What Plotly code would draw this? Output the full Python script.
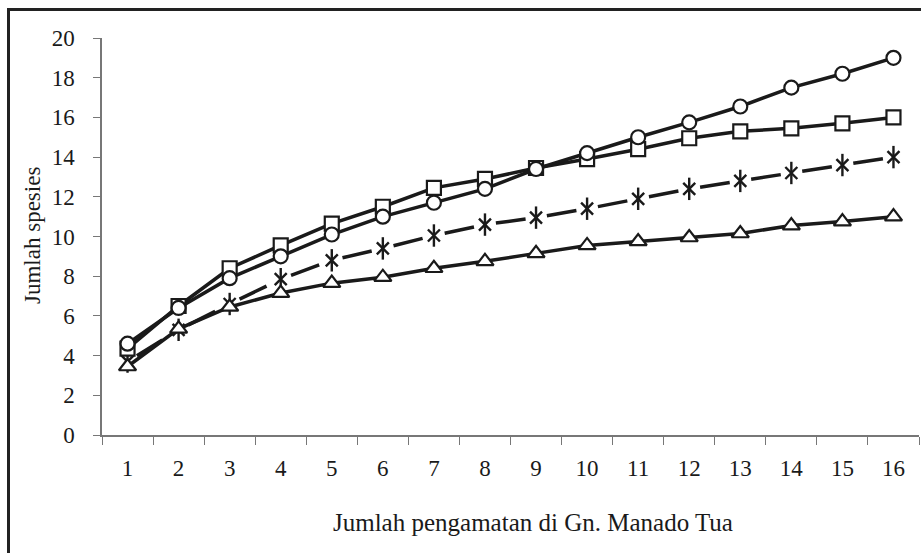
import plotly.graph_objects as go

categories = [str(i) for i in range(1, 17)]
circle_vals = [4.6, 6.4, 7.9, 9.0, 10.1, 11.0, 11.7, 12.4, 13.4, 14.2, 15.0, 15.75, 16.55, 17.5, 18.2, 19.0]
square_vals = [4.35, 6.5, 8.4, 9.55, 10.65, 11.5, 12.45, 12.9, 13.45, 13.9, 14.4, 14.95, 15.3, 15.45, 15.7, 16.0]
aster_vals = [3.7, 5.3, 6.6, 7.85, 8.8, 9.4, 10.05, 10.6, 10.95, 11.4, 11.9, 12.4, 12.8, 13.2, 13.6, 14.0]
tri_vals = [3.45, 5.35, 6.45, 7.15, 7.65, 7.95, 8.4, 8.75, 9.15, 9.55, 9.75, 9.95, 10.15, 10.55, 10.75, 11.0]
y_ticks = list(range(0, 21, 2))

FONT = "Liberation Serif"
INK = "#1a1a1a"
LW = 3.5

fig = go.Figure()

# dashed asterisk series: one dash per segment
for i in range(len(categories) - 1):
    fig.add_trace(go.Scatter(
        x=[categories[i], categories[i + 1]], y=[aster_vals[i], aster_vals[i + 1]],
        mode="lines", line=dict(color=INK, width=LW, dash="0px,11px,30px,300px"),
        hoverinfo="skip", showlegend=False))
# six-armed asterisk = X + vertical bar
fig.add_trace(go.Scatter(
    x=categories, y=aster_vals, mode="markers",
    marker=dict(symbol="x-thin-open", size=12, color=INK, line=dict(color=INK, width=2.4)),
    showlegend=False, hoverinfo="skip"))
fig.add_trace(go.Scatter(
    x=categories, y=aster_vals, mode="markers",
    marker=dict(symbol="line-ns-open", size=16, color=INK, line=dict(color=INK, width=2.4)),
    showlegend=False))

fig.add_trace(go.Scatter(
    x=categories, y=tri_vals, mode="lines+markers",
    line=dict(color=INK, width=LW),
    marker=dict(symbol="triangle-up", size=15, color="white", line=dict(color=INK, width=2.2)),
    showlegend=False))

fig.add_trace(go.Scatter(
    x=categories, y=square_vals, mode="lines+markers",
    line=dict(color=INK, width=LW),
    marker=dict(symbol="square", size=14, color="white", line=dict(color=INK, width=2.2)),
    showlegend=False))

fig.add_trace(go.Scatter(
    x=categories, y=circle_vals, mode="lines+markers",
    line=dict(color=INK, width=LW),
    marker=dict(symbol="circle", size=14, color="white", line=dict(color=INK, width=2.2)),
    showlegend=False))

L, T = 102, 38
PW, PH = 817, 397
W, H = 921, 553

def px(x):
    return (x - L) / PW

def py(y):
    return (T + PH - y) / PH

fig.update_layout(
    width=W, height=H,
    margin=dict(l=L, r=W - L - PW, t=T, b=H - T - PH, autoexpand=False),
    paper_bgcolor="white", plot_bgcolor="white",
    font=dict(family=FONT, size=23, color=INK),
    xaxis=dict(type="category", range=[-0.5, len(categories) - 0.5],
               tickson="boundaries", ticks="outside", ticklen=8,
               tickcolor="#777", tickwidth=1.3, showline=True, linecolor="#777", linewidth=1.5,
               showgrid=False, zeroline=False, ticklabelstandoff=12, automargin=False,
               tickfont=dict(family=FONT, size=23, color=INK), fixedrange=True),
    yaxis=dict(range=[0, 20], tickvals=y_ticks, ticks="outside", ticklen=7,
               tickcolor="#777", tickwidth=1.3, showline=True, linecolor="#777", linewidth=1.5,
               showgrid=False, zeroline=False, ticklabelstandoff=14, automargin=False,
               tickfont=dict(family=FONT, size=23, color=INK), fixedrange=True),
    annotations=[
        dict(text="Jumlah pengamatan di Gn. Manado Tua", xref="paper", yref="paper",
             x=px(533), y=py(522), xanchor="center", yanchor="middle",
             showarrow=False, font=dict(family=FONT, size=25, color=INK)),
        dict(text="Jumlah spesies", xref="paper", yref="paper", textangle=-90,
             x=px(33), y=py(236), xanchor="center", yanchor="middle",
             showarrow=False, font=dict(family=FONT, size=23, color=INK)),
    ],
    shapes=[
        dict(type="line", xref="paper", yref="paper",
             x0=px(8.5), x1=px(8.5), y0=py(553), y1=py(9.5),
             line=dict(color="#222", width=3), layer="below"),
        dict(type="line", xref="paper", yref="paper",
             x0=px(7), x1=px(921), y0=py(9.5), y1=py(9.5),
             line=dict(color="#222", width=3), layer="below"),
    ],
)

fig.write_html(
    "out.html",
    config={"displayModeBar": False},
    post_script="document.body.style.margin='0';document.body.style.overflow='hidden';"
                "document.documentElement.style.overflow='hidden';",
)
